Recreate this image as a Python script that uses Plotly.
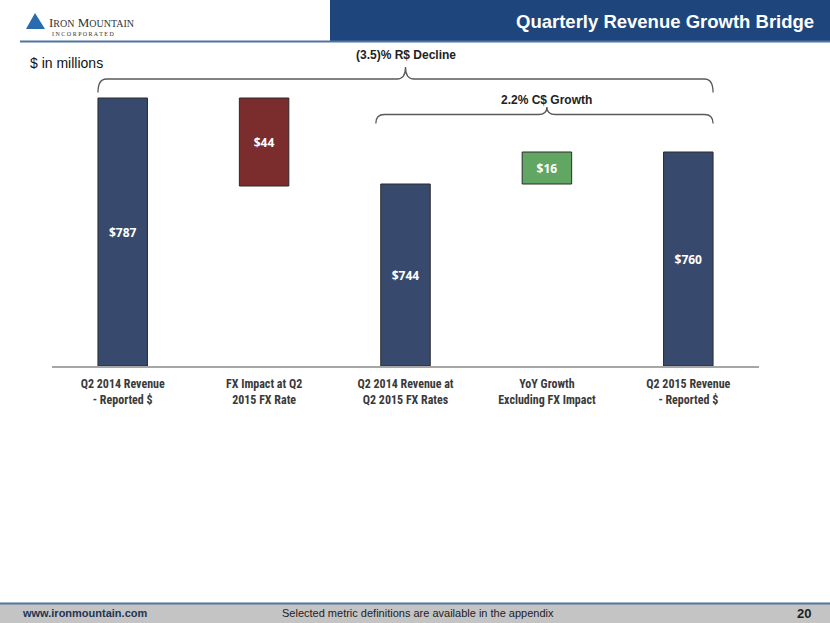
import plotly.graph_objects as go

# bridge data ($ in millions)
categories = [
    "Q2 2014 Revenue<br>- Reported $",
    "FX Impact at Q2<br>2015 FX Rate",
    "Q2 2014 Revenue at<br>Q2 2015 FX Rates",
    "YoY Growth<br>Excluding FX Impact",
    "Q2 2015 Revenue<br>- Reported $",
]
values = [787, -44, 744, 16, 760]
kinds = ["total", "change", "total", "change", "total"]

decline_text = "(3.5)% R$ Decline"
growth_text = "2.2% C$ Growth"

Y_MIN = 653
Y_MAX = 791

NAVY = "#374A6E"
RED = "#7B2C2C"
GREEN = "#62A663"

# work out where each floating bar starts
bases, heights, colors, labels = [], [], [], []
running = None
for v, k in zip(values, kinds):
    if k == "total":
        bases.append(Y_MIN)
        heights.append(v - Y_MIN)
        colors.append(NAVY)
        running = v
    else:
        bases.append(running + min(v, 0))
        heights.append(abs(v))
        colors.append(RED if v < 0 else GREEN)
        running = running + v
    labels.append("$%d" % abs(v))

fig = go.Figure(go.Bar(
    x=list(range(len(categories))),
    y=heights,
    base=bases,
    marker=dict(color=colors, line=dict(color="#2B2B2B", width=1)),
    text=labels,
    textposition="inside",
    insidetextanchor="middle",
    textangle=0,
    textfont=dict(family="Open Sans, Liberation Sans", size=12, color="white", weight="bold"),
    hoverinfo="skip",
))

HALF = 0.175  # half bar width in category units


def bracket(x0, x1, xt, y_end, y_line, y_tip):
    r = 0.06
    return (f"M {x0} {y_end} Q {x0} {y_line} {x0 + r} {y_line} "
            f"L {xt - r} {y_line} Q {xt} {y_line} {xt} {y_tip} "
            f"Q {xt} {y_line} {xt + r} {y_line} "
            f"L {x1 - r} {y_line} Q {x1} {y_line} {x1} {y_end}")


def py(p):
    # pixel row -> paper y (plot spans rows 90..366)
    return (366 - p) / 276


def px(p):
    # pixel column -> paper x (plot spans columns 52..759)
    return (p - 52) / 707


shapes = [
    # header band and rules
    dict(type="rect", xref="paper", yref="paper", x0=px(330), x1=px(832),
         y0=py(41), y1=py(-2), fillcolor="#1F467C", line=dict(width=0), layer="below"),
    dict(type="line", xref="paper", yref="paper", x0=px(20), x1=px(832),
         y0=py(41.5), y1=py(41.5), line=dict(color="#4F74A3", width=2)),
    # footer band
    dict(type="rect", xref="paper", yref="paper", x0=px(-2), x1=px(832),
         y0=py(625), y1=py(604), fillcolor="#C4C4C4", line=dict(width=0), layer="below"),
    dict(type="line", xref="paper", yref="paper", x0=px(-2), x1=px(832),
         y0=py(603.5), y1=py(603.5), line=dict(color="#4F74A3", width=2)),
    # logo triangle
    dict(type="path", xref="paper", yref="paper",
         path=f"M {px(26)} {py(29)} L {px(35)} {py(13)} L {px(45)} {py(29)} Z",
         fillcolor="#2A6BB0", line=dict(width=0)),
    # brackets
    dict(type="path", xref="x", yref="paper",
         path=bracket(0 - HALF, 4 + HALF, 2, py(92.5), py(79), py(67)),
         line=dict(color="#595959", width=1.3)),
    dict(type="path", xref="x", yref="paper",
         path=bracket(2 - 0.21, 4 + HALF, 3, py(123.5), py(114.5), py(107)),
         line=dict(color="#595959", width=1.3)),
]

annotations = [
    dict(text="<b>Quarterly Revenue Growth Bridge</b>", xref="paper", yref="paper",
         x=px(816), y=py(21), xanchor="right", yanchor="middle", showarrow=False,
         font=dict(family="Liberation Sans, Arial", size=18.5, color="white")),
    dict(text="I<span style='font-size:10px'>RON</span> M<span style='font-size:10px'>OUNTAIN</span>",
         xref="paper", yref="paper", x=px(47), y=py(22), xanchor="left", yanchor="middle",
         showarrow=False, font=dict(family="Liberation Serif, Times New Roman", size=13, color="#333333")),
    dict(text="I N C O R P O R A T E D", xref="paper", yref="paper", x=px(50), y=py(34),
         xanchor="left", yanchor="middle", showarrow=False,
         font=dict(family="Liberation Serif, Times New Roman", size=6, color="#333333")),
    dict(text="$ in millions", xref="paper", yref="paper", x=px(28), y=py(63),
         xanchor="left", yanchor="middle", showarrow=False,
         font=dict(family="Liberation Sans, Arial", size=14, color="#111111")),
    dict(text="<b>" + decline_text + "</b>", xref="x", yref="paper", x=2, y=py(55),
         xanchor="center", yanchor="middle", showarrow=False,
         font=dict(family="Liberation Sans, Arial", size=12, color="#222222")),
    dict(text="<b>" + growth_text + "</b>", xref="x", yref="paper", x=3, y=py(99.5),
         xanchor="center", yanchor="middle", showarrow=False,
         font=dict(family="Liberation Sans, Arial", size=12, color="#222222")),
    dict(text="<b>www.ironmountain.com</b>", xref="paper", yref="paper", x=px(20), y=py(613),
         xanchor="left", yanchor="middle", showarrow=False,
         font=dict(family="Liberation Sans, Arial", size=11, color="#1F3552")),
    dict(text="Selected metric definitions are available in the appendix", xref="paper", yref="paper",
         x=px(418), y=py(613), xanchor="center", yanchor="middle", showarrow=False,
         font=dict(family="Liberation Sans, Arial", size=11, color="#222222")),
    dict(text="<b>20</b>", xref="paper", yref="paper", x=px(813), y=py(613),
         xanchor="right", yanchor="middle", showarrow=False,
         font=dict(family="Liberation Sans, Arial", size=13, color="#222222")),
]

fig.update_layout(
    width=830,
    height=623,
    margin=dict(l=52, r=71, t=90, b=257),
    paper_bgcolor="white",
    plot_bgcolor="white",
    showlegend=False,
    bargap=0.65,
    shapes=shapes,
    annotations=annotations,
    xaxis=dict(
        tickmode="array",
        tickvals=list(range(len(categories))),
        ticktext=categories,
        range=[-0.5, len(categories) - 0.5],
        showline=True,
        linecolor="#A6A6A6",
        linewidth=2,
        showgrid=False,
        zeroline=False,
        ticks="",
        ticklabelstandoff=6,
        tickfont=dict(family="Liberation Sans Narrow, Roboto Condensed, Liberation Sans", size=12,
                      color="#3A3A3A", weight="bold"),
        fixedrange=True,
    ),
    yaxis=dict(
        range=[Y_MIN, Y_MAX],
        visible=False,
        showgrid=False,
        zeroline=False,
        fixedrange=True,
    ),
)

# page body has an 8px margin by default; drop it so the figure fills the window
fig.write_html("out.html", config={"displayModeBar": False},
               post_script="document.body.style.margin='0px';")
